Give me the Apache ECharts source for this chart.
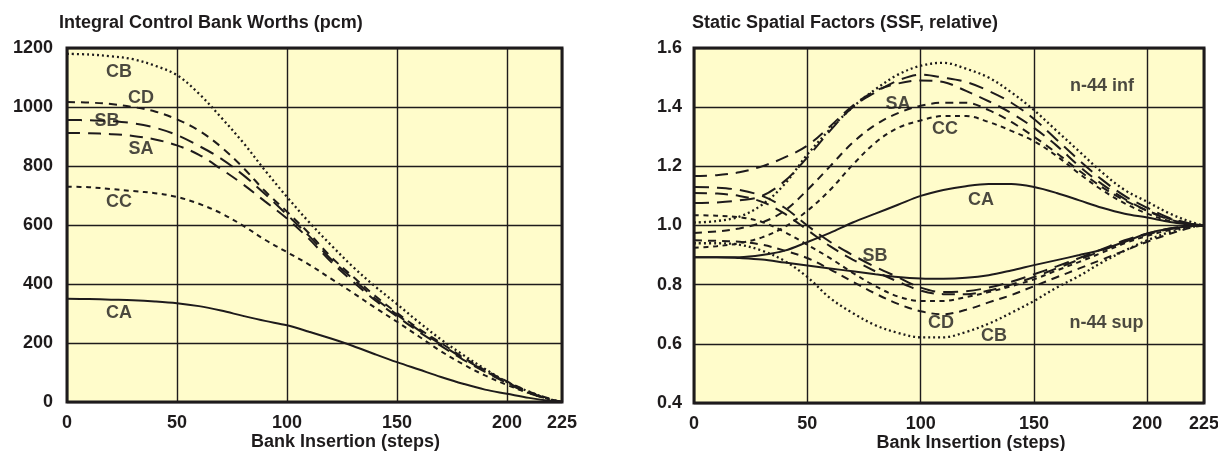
<!DOCTYPE html>
<html>
<head>
<meta charset="utf-8">
<script src="https://cdn.jsdelivr.net/npm/echarts@6/dist/echarts.min.js"></script>
<style>
html,body{margin:0;padding:0;background:#ffffff;}
#chart{width:1218px;height:451px;}
</style>
</head>
<body>
<div id="chart"></div>
<script>
// ---------- data ----------
const steps = [0,10,20,30,40,50,60,70,80,90,100,110,120,130,140,150,160,170,180,190,200,210,220,225];
const xTicks = [0,50,100,150,200,225];

// Left: Integral Control Bank Worths (pcm)
const wCB = [1180,1178,1172,1162,1140,1108,1045,965,880,785,695,610,532,458,392,332,270,212,160,112,68,35,8,0];
const wCD = [1017,1015,1010,1000,985,958,920,865,795,715,645,572,492,425,360,302,248,200,152,108,70,35,10,0];
const wSB = [956,955,952,945,930,905,868,825,770,705,635,563,484,417,352,296,243,195,148,105,67,32,9,0];
const wSA = [912,911,908,902,890,870,838,790,738,680,622,553,475,408,345,290,238,190,144,102,64,30,8,0];
const wCC = [730,728,722,715,708,695,672,640,598,550,508,466,418,370,320,272,222,172,128,90,58,30,8,0];
const wCA = [350,349,347,345,341,335,325,310,292,275,260,238,215,190,162,135,110,85,62,42,28,14,3,0];

// Right: Static Spatial Factors, n-44 inf (upper) and n-44 sup (lower)
const infCA = [0.893,0.893,0.893,0.900,0.915,0.944,0.975,1.010,1.040,1.070,1.100,1.120,1.133,1.140,1.140,1.130,1.110,1.085,1.060,1.040,1.027,1.012,1.002,1.0];
const infCB = [1.010,1.015,1.030,1.070,1.140,1.240,1.325,1.400,1.460,1.510,1.540,1.550,1.530,1.500,1.450,1.390,1.320,1.250,1.180,1.120,1.080,1.040,1.010,1.0];
const infSB = [1.076,1.078,1.085,1.100,1.150,1.230,1.320,1.400,1.450,1.490,1.510,1.500,1.485,1.455,1.415,1.360,1.290,1.220,1.155,1.100,1.060,1.025,1.005,1.0];
const infSA = [1.167,1.170,1.180,1.200,1.230,1.270,1.335,1.405,1.455,1.480,1.490,1.485,1.455,1.420,1.380,1.330,1.270,1.200,1.140,1.090,1.050,1.020,1.004,1.0];
const infCD = [0.975,0.980,0.990,1.010,1.050,1.120,1.200,1.280,1.340,1.380,1.405,1.415,1.415,1.390,1.350,1.300,1.245,1.185,1.130,1.085,1.050,1.022,1.005,1.0];
const infCC = [0.925,0.930,0.940,0.960,0.995,1.050,1.120,1.205,1.280,1.330,1.355,1.370,1.370,1.350,1.320,1.285,1.235,1.175,1.120,1.075,1.040,1.015,1.003,1.0];

const supCA = [0.893,0.893,0.890,0.885,0.875,0.865,0.855,0.845,0.835,0.826,0.821,0.820,0.823,0.832,0.848,0.866,0.883,0.900,0.918,0.945,0.973,0.990,0.998,1.0];
const supSB = [1.130,1.128,1.120,1.100,1.060,1.000,0.945,0.900,0.860,0.825,0.790,0.775,0.778,0.790,0.810,0.835,0.862,0.890,0.920,0.950,0.973,0.990,0.998,1.0];
const supSA = [1.110,1.108,1.100,1.080,1.040,0.985,0.930,0.885,0.845,0.810,0.780,0.768,0.768,0.780,0.800,0.826,0.855,0.885,0.915,0.945,0.970,0.988,0.998,1.0];
const supCC = [1.035,1.033,1.028,1.012,0.978,0.935,0.890,0.840,0.795,0.760,0.745,0.745,0.758,0.775,0.795,0.818,0.848,0.877,0.908,0.940,0.965,0.985,0.997,1.0];
const supCD = [0.950,0.948,0.945,0.935,0.915,0.890,0.852,0.810,0.770,0.735,0.710,0.700,0.715,0.740,0.765,0.795,0.825,0.855,0.885,0.915,0.945,0.972,0.994,1.0];
const supCB = [0.940,0.940,0.935,0.915,0.880,0.826,0.755,0.704,0.663,0.637,0.622,0.622,0.640,0.668,0.705,0.745,0.790,0.830,0.875,0.915,0.950,0.978,0.996,1.0];

// curve annotations (data coordinates)
const leftNotes = [['CB',23.6,1119],['CD',33.6,1031],['SB',18.2,953],['SA',33.6,858],['CC',23.6,678],['CA',23.6,302]];
const rightNotes = [['SA',90,1.41],['CC',110.7,1.326],['CA',126.6,1.086],['n-44 inf',180,1.471],['SB',79.8,0.897],['CD',109,0.67],['CB',132.3,0.626],['n-44 sup',182,0.67]];

// ---------- styling ----------
const INK = '#1e1b1c';
const FONT = 'Liberation Sans, Arial, sans-serif';
const FW = 'bold';
const dash = {
  CA: 'solid',
  CB: [2, 3],
  CC: [5, 4.5],
  CD: [8, 6],
  SA: [13, 8],
  SB: [15, 8]
};

function pairs(vals){ return steps.map((s,i)=>[s, vals[i]]); }
function line(name, vals, g, key){
  return {
    type:'line', name:name, xAxisIndex:g, yAxisIndex:g,
    data: pairs(vals), showSymbol:false, smooth:0.35,
    lineStyle:{color:INK, width:key==='CB'?2.3:2, type:dash[key]},
    silent:true, z:3
  };
}
function notes(list, g){
  return {
    type:'scatter', xAxisIndex:g, yAxisIndex:g, symbolSize:1,
    itemStyle:{color:'rgba(0,0,0,0)'}, silent:true, z:5,
    data: list.map(n=>({name:n[0], value:[n[1], n[2]]})),
    label:{show:true, position:'inside', formatter:'{b}', color:INK, fontSize:18, fontWeight:FW, fontFamily:FONT}
  };
}

const grids = [
  {left:67, top:48, width:495, height:354},
  {left:694, top:48, width:510, height:355}
].map(g=>Object.assign({show:true, backgroundColor:'#fffccb', borderColor:INK, borderWidth:3, containLabel:false, outerBoundsMode:'none'}, g));

function xAxis(g){
  return {
    type:'value', gridIndex:g, min:0, max:225, interval:50,
    name:'Bank Insertion (steps)', nameLocation:'middle', nameGap:31, nameMoveOverlap:false,
    nameTextStyle:{color:INK, fontSize:18, fontWeight:FW, fontFamily:FONT, padding:[0,0,0, g===0?62:44]},
    axisLine:{show:false}, axisTick:{show:false},
    axisLabel:{customValues:xTicks, color:INK, fontSize:18, fontWeight:FW, fontFamily:FONT, margin:12},
    splitLine:{show:true, lineStyle:{color:INK, width:1.4}}
  };
}

const option = {
  animation:false,
  backgroundColor:'#ffffff',
  title:[
    {text:'Integral Control Bank Worths (pcm)', left:54, top:9, textStyle:{color:INK, fontSize:18, fontWeight:FW, fontFamily:FONT}},
    {text:'Static Spatial Factors (SSF, relative)', left:687, top:9, textStyle:{color:INK, fontSize:18, fontWeight:FW, fontFamily:FONT}}
  ],
  grid: grids,
  xAxis:[xAxis(0), xAxis(1)],
  yAxis:[
    {type:'value', gridIndex:0, min:0, max:1200, interval:200,
     axisLine:{show:false}, axisTick:{show:false},
     axisLabel:{color:INK, fontSize:18, fontWeight:FW, fontFamily:FONT, margin:14, formatter:v=>String(v)},
     splitLine:{show:true, lineStyle:{color:INK, width:1.4}}},
    {type:'value', gridIndex:1, min:0.4, max:1.6, interval:0.2,
     axisLine:{show:false}, axisTick:{show:false},
     axisLabel:{color:INK, fontSize:18, fontWeight:FW, fontFamily:FONT, margin:12, formatter:v=>v.toFixed(1)},
     splitLine:{show:true, lineStyle:{color:INK, width:1.4}}}
  ],
  series:[
    line('CB', wCB, 0, 'CB'),
    line('CD', wCD, 0, 'CD'),
    line('SB', wSB, 0, 'SB'),
    line('SA', wSA, 0, 'SA'),
    line('CC', wCC, 0, 'CC'),
    line('CA', wCA, 0, 'CA'),
    notes(leftNotes, 0),
    line('CA inf', infCA, 1, 'CA'),
    line('CB inf', infCB, 1, 'CB'),
    line('SB inf', infSB, 1, 'SB'),
    line('SA inf', infSA, 1, 'SA'),
    line('CD inf', infCD, 1, 'CD'),
    line('CC inf', infCC, 1, 'CC'),
    line('CA sup', supCA, 1, 'CA'),
    line('CB sup', supCB, 1, 'CB'),
    line('SB sup', supSB, 1, 'SB'),
    line('SA sup', supSA, 1, 'SA'),
    line('CD sup', supCD, 1, 'CD'),
    line('CC sup', supCC, 1, 'CC'),
    notes(rightNotes, 1)
  ]
};

const chart = echarts.init(document.getElementById('chart'), null, {renderer:'canvas'});
chart.setOption(option);
</script>
</body>
</html>
